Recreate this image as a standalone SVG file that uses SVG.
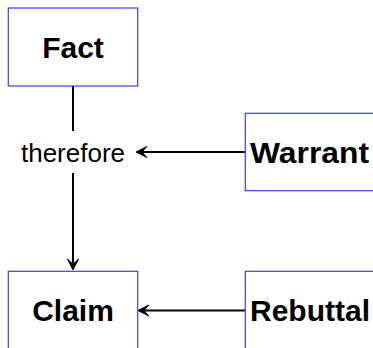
<svg xmlns="http://www.w3.org/2000/svg" width="373" height="348" viewBox="0 0 373 348">
<style>
.box{fill:#fff;stroke:#3b3bff;stroke-width:1.2}
.lbl{font-family:"Liberation Sans",Arial,sans-serif;font-weight:bold;font-size:30px;fill:#000}
.plain{font-family:"Liberation Sans",Arial,sans-serif;font-size:26px;fill:#000}
.edge{stroke:#000;stroke-width:2;fill:none}
</style>
<defs>
<marker id="arr" markerUnits="userSpaceOnUse" markerWidth="20" markerHeight="20" refX="0" refY="0" orient="auto" overflow="visible">
<path d="M1,0 L-10,-5.5 Q-5.5,-1 -5.5,0 Q-5.5,1 -10,5.5 Z" fill="#000" stroke="#000" stroke-width="1" stroke-linejoin="round"/>
</marker>
</defs>
<g id="edges">
<line class="edge" x1="73" y1="86" x2="73" y2="131"/>
<line class="edge" x1="73" y1="173" x2="73" y2="269" marker-end="url(#arr)"/>
<line class="edge" x1="245.3" y1="152" x2="137" y2="152" marker-end="url(#arr)"/>
<line class="edge" x1="245.3" y1="310.5" x2="139" y2="310.5" marker-end="url(#arr)"/>
</g>
<g id="fact">
<rect class="box" x="8.3" y="8" width="129.4" height="78"/>
<text class="lbl" x="73" y="58.3" text-anchor="middle">Fact</text>
</g>
<g id="therefore">
<text class="plain" x="73" y="162" text-anchor="middle">therefore</text>
</g>
<g id="warrant">
<rect class="box" x="245.3" y="113.3" width="140" height="77.4"/>
<text class="lbl" x="250" y="162.7" textLength="119" lengthAdjust="spacingAndGlyphs">Warrant</text>
</g>
<g id="claim">
<rect class="box" x="8.3" y="271.3" width="129.4" height="78"/>
<text class="lbl" x="73" y="320.7" text-anchor="middle">Claim</text>
</g>
<g id="rebuttal">
<rect class="box" x="245.3" y="271.3" width="140" height="78"/>
<text class="lbl" x="250" y="320.7">Rebuttal</text>
</g>
</svg>
